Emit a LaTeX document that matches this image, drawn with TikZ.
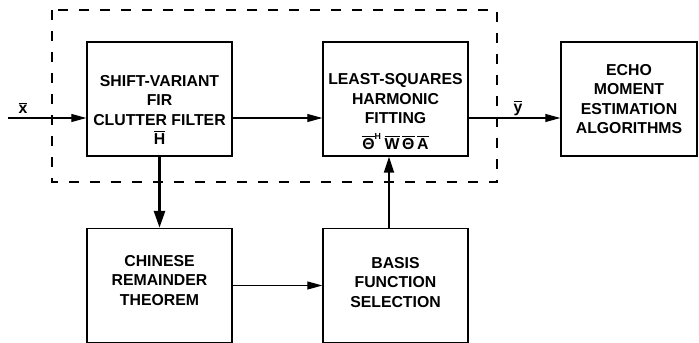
\documentclass[tikz,border=0pt]{standalone}
\usepackage{fontspec}
\setmainfont{Liberation Sans}
\usetikzlibrary{arrows.meta}
\begin{document}
\begin{tikzpicture}[every node/.style={font=\fontsize{9}{11}\selectfont\bfseries},
  blk/.style={draw,line width=0.8pt,minimum width=2.9cm,minimum height=2.28cm,inner sep=0pt},
  txt/.style={align=center,inner sep=0pt},
  sig/.style={line width=0.6pt,-{Triangle[length=0.3cm,width=0.16cm]}}]
\useasboundingbox (0,0) rectangle (13.98,6.84);
% processing chain inside the dashed frame
\draw[line width=1pt,dash pattern=on 0.2cm off 0.22cm] (1.04,6.64) rectangle (9.94,3.20);
\node[blk] (fir) at (3.19,4.86) {};
\node[txt] (firtxt) at ([yshift=-0.22cm]fir.center) {SHIFT-VARIANT\\FIR\\CLUTTER FILTER\\$\overline{\mbox{H}}$};
\node[blk] (lsq) at (7.91,4.86) {};
\node[txt] (lsqtxt) at ([yshift=-0.26cm]lsq.center) {LEAST-SQUARES\\HARMONIC\\FITTING\\[4pt]$\overline{\mbox{Θ}}^{\mbox{\tiny H}}\,\overline{\mbox{W}}\,\overline{\mbox{Θ}}\,\overline{\mbox{A}}$};
\node[blk,minimum width=2.72cm] (echo) at (12.58,4.86) {};
\node[txt] (echotxt) at (echo.center) {ECHO\\MOMENT\\ESTIMATION\\ALGORITHMS};
% lower row
\node[blk,minimum height=2.28cm] (crt) at (3.19,1.13) {};
\node[txt] (crttxt) at ([yshift=0.1cm]crt.center) {CHINESE\\REMAINDER\\THEOREM};
\node[blk,minimum height=2.28cm] (basis) at (7.91,1.13) {};
\node[txt] (basistxt) at ([yshift=0.06cm]basis.center) {BASIS\\FUNCTION\\SELECTION};
% signal flow
\coordinate (in) at (0.16,4.48);
\draw[sig] (in) -- (in -| fir.west);
\node (xlbl) at (0.46,4.68) {$\overline{\mbox{x}}$};
\draw[sig] ([yshift=-0.38cm]fir.east) -- ([yshift=-0.38cm]lsq.west);
\draw[sig] ([yshift=-0.38cm]lsq.east) -- ([yshift=-0.38cm]echo.west);
\node (ylbl) at (10.36,4.68) {$\overline{\mbox{y}}$};
\draw[line width=1.6pt,-{Triangle[length=0.34cm,width=0.22cm]}] (fir.south) -- (crt.north);
\draw[sig] (crt.east) -- (basis.west);
\draw[line width=1.2pt,-{Triangle[length=0.32cm,width=0.2cm]}] ([xshift=-0.13cm]basis.north) -- ([xshift=-0.13cm]lsq.south);
\end{tikzpicture}
\end{document}
